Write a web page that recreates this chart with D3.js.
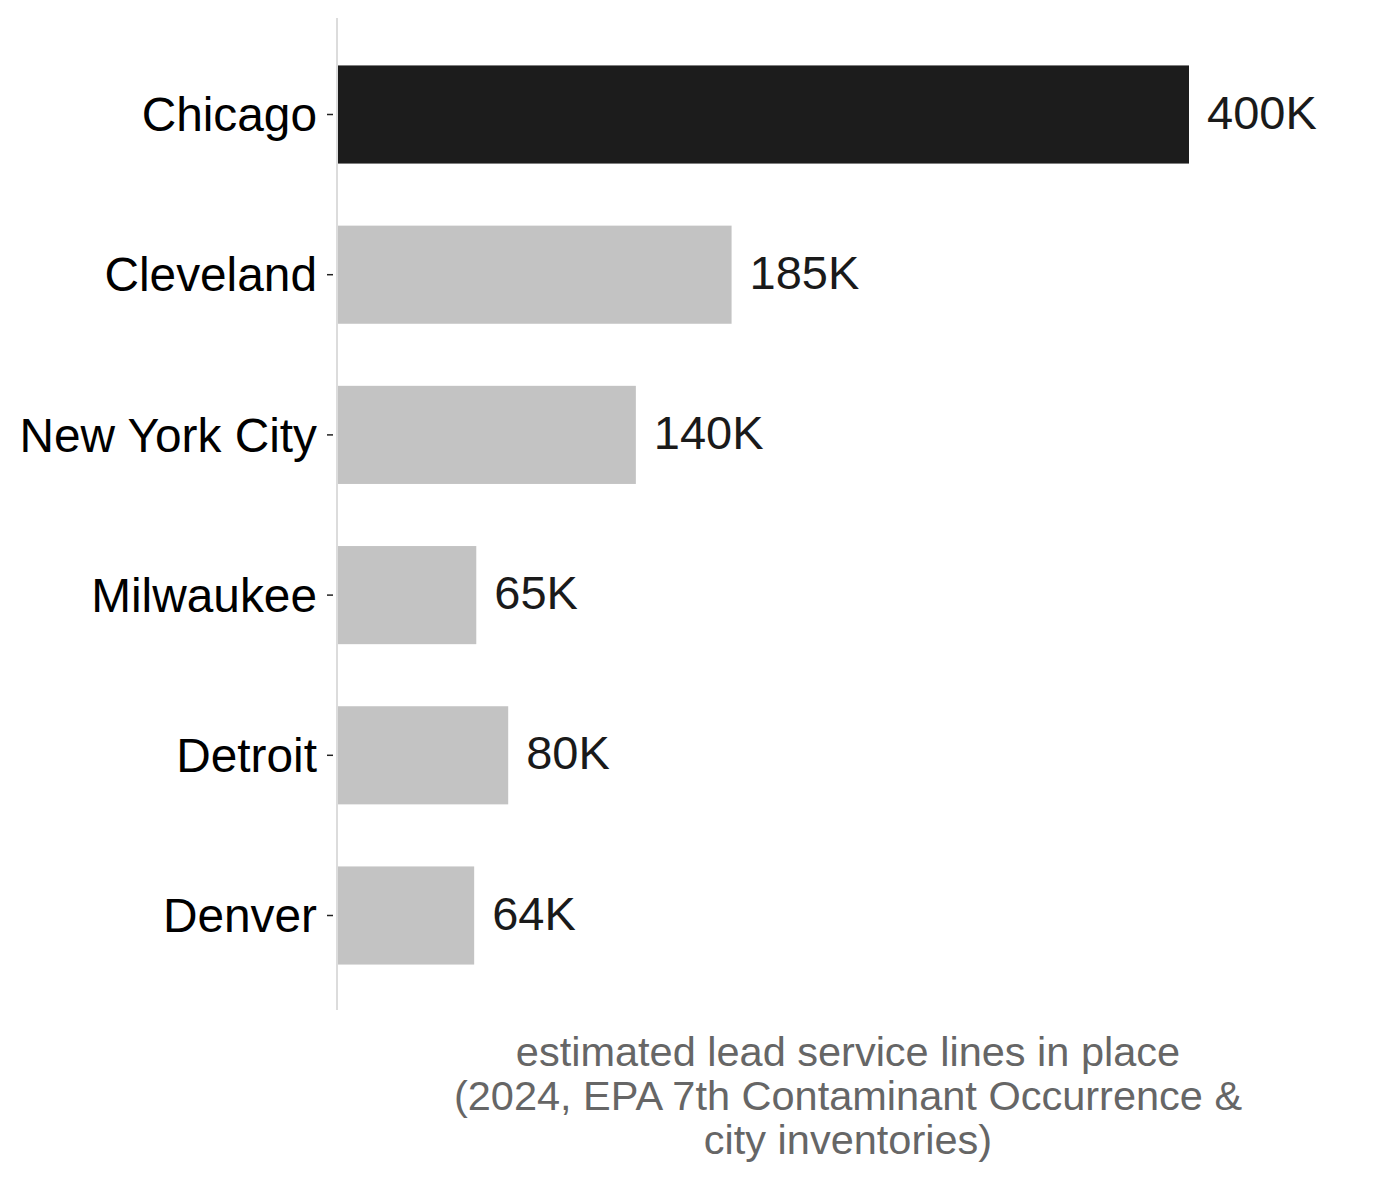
<!DOCTYPE html>
<html>
<head>
<meta charset="utf-8">
<script src="https://cdn.jsdelivr.net/npm/d3@7"></script>
<style>
  body { margin: 0; background: #fff; }
  svg { display: block; font-family: "Liberation Sans", Arial, sans-serif; }
</style>
</head>
<body>
<svg id="chart" width="1380" height="1184"></svg>
<script>
// data
var cities = ["Chicago", "Cleveland", "New York City", "Milwaukee", "Detroit", "Denver"];
var leadLines = [400, 185, 140, 65, 80, 64]; // thousands
var valueLabels = ["400K", "185K", "140K", "65K", "80K", "64K"];
var highlight = ["Chicago"];
var titleLines = [
  "estimated lead service lines in place",
  "(2024, EPA 7th Contaminant Occurrence &",
  "city inventories)"
];

var svg = d3.select("#chart"),
  margin = { top: 18, left: 337, right: 20 },
  plotBottom = 1010;

var x = d3.scaleLinear()
  .domain([0, 400])
  .range([margin.left + 1, 1189]);

var y = d3.scaleBand()
  .domain(cities)
  .range([margin.top + 17, plotBottom - 15])
  .paddingInner(0.3875)
  .paddingOuter(0.19);

var rows = cities.map(function(c, i) {
  return { city: c, value: leadLines[i], label: valueLabels[i] };
});

// axis line
svg.append("line")
  .attr("x1", margin.left).attr("x2", margin.left)
  .attr("y1", margin.top).attr("y2", plotBottom)
  .attr("stroke", "#dcdcdc")
  .attr("stroke-width", 2);

// y axis ticks + labels
var yAxis = svg.append("g")
  .attr("transform", "translate(" + (margin.left - 4) + ",0)")
  .call(d3.axisLeft(y).tickSize(6).tickPadding(10));
yAxis.select(".domain").remove();
yAxis.selectAll(".tick line").attr("stroke", "#222").attr("stroke-width", 1.5);
yAxis.selectAll(".tick text")
  .attr("fill", "#000")
  .style("font-size", "47.8px")
  .attr("dy", "0.35em");

// bars
svg.append("g").selectAll("rect")
  .data(rows)
  .join("rect")
  .attr("x", x(0))
  .attr("y", function(d) { return y(d.city); })
  .attr("width", function(d) { return x(d.value) - x(0); })
  .attr("height", y.bandwidth())
  .attr("fill", function(d) { return highlight.indexOf(d.city) >= 0 ? "#1c1c1c" : "#c3c3c3"; });

// value labels
svg.append("g").selectAll("text")
  .data(rows)
  .join("text")
  .attr("x", function(d) { return x(d.value) + 18; })
  .attr("y", function(d) { return y(d.city) + y.bandwidth() / 2; })
  .attr("dy", "0.3em")
  .attr("fill", "#1a1a1a")
  .style("font-size", "47px")
  .text(function(d) { return d.label; });

// axis title
svg.append("text")
  .attr("x", 848)
  .attr("y", 1066)
  .attr("text-anchor", "middle")
  .attr("fill", "#666")
  .style("font-size", "41.5px")
  .selectAll("tspan")
  .data(titleLines)
  .join("tspan")
  .attr("x", 848)
  .attr("dy", function(d, i) { return i === 0 ? 0 : 44; })
  .text(function(d) { return d; });
</script>
</body>
</html>
